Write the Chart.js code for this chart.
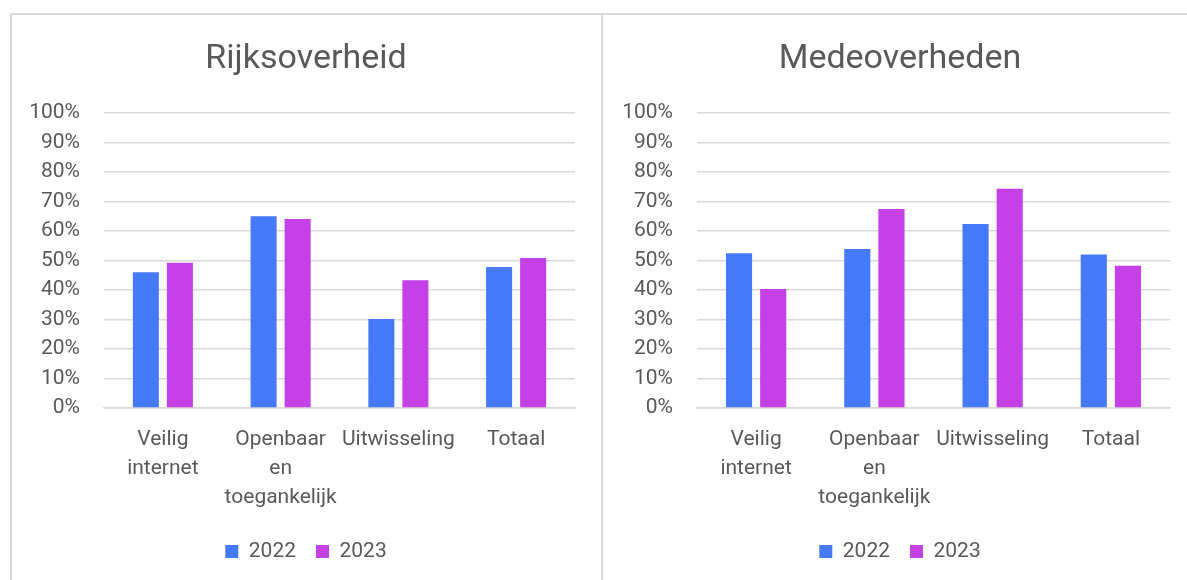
<!DOCTYPE html>
<html>
<head>
<meta charset="utf-8">
<script src="https://cdn.jsdelivr.net/npm/chart.js@4.4.1/dist/chart.umd.min.js"></script>
<style>
  body { margin: 0; background: #fff; width: 1187px; height: 580px; overflow: hidden; position: relative; }
  .box { position: absolute; top: 13px; height: 600px; border: 2px solid #d9d9d9; box-sizing: border-box; }
  #box1 { left: 10px; width: 593px; }
  #box2 { left: 601px; width: 600px; }
  .wrap { position: absolute; top: 15px; width: 588px; height: 565px; }
  #wrap1 { left: 12px; }
  #wrap2 { left: 606px; }
</style>
</head>
<body>
<div class="box" id="box1"></div>
<div class="box" id="box2"></div>
<div class="wrap" id="wrap1"><canvas id="chart1"></canvas></div>
<div class="wrap" id="wrap2"><canvas id="chart2"></canvas></div>
<script>
const categories = [["Veilig", "internet"], ["Openbaar", "en", "toegankelijk"], "Uitwisseling", "Totaal"];
const years = ["2022", "2023"];
const colors = ["#467afc", "#c640e8"];

const rijk2022 = [46, 65, 30.2, 47.8];
const rijk2023 = [49.2, 64, 43.3, 50.8];
const mede2022 = [52.4, 53.9, 62.3, 52];
const mede2023 = [40.3, 67.4, 74.3, 48.2];

const fontFamily = "Roboto, 'Open Sans', sans-serif";
const textColor = "#595959";

function makeChart(canvasId, title, values2022, values2023, sidePad) {
  const datasets = [values2022, values2023].map((vals, i) => ({
    label: years[i],
    data: vals,
    backgroundColor: colors[i],
    borderWidth: 0,
    categoryPercentage: 0.578,
    barPercentage: 0.765
  }));

  return new Chart(document.getElementById(canvasId), {
    type: "bar",
    data: { labels: categories, datasets },
    options: {
      responsive: true,
      maintainAspectRatio: false,
      animation: false,
      layout: { padding: { left: sidePad, right: sidePad, top: 24, bottom: 8 } },
      plugins: {
        title: {
          display: true,
          text: title,
          color: textColor,
          font: { family: fontFamily, size: 34, weight: "normal" },
          padding: { top: 0, bottom: 33 }
        },
        legend: {
          position: "bottom",
          labels: {
            color: textColor,
            font: { family: fontFamily, size: 21 },
            boxWidth: 13,
            boxHeight: 13,
            padding: 20
          }
        },
        tooltip: { enabled: false }
      },
      scales: {
        x: {
          grid: { display: false },
          border: { display: true, color: "#d9d9d9", width: 1.5 },
          ticks: {
            color: textColor,
            font: { family: fontFamily, size: 21, lineHeight: 1.38 },
            padding: 9,
            maxRotation: 0,
            autoSkip: false
          }
        },
        y: {
          min: 0,
          max: 100,
          afterFit: (scale) => { scale.width = 76; },
          ticks: {
            stepSize: 10,
            color: textColor,
            font: { family: fontFamily, size: 21 },
            padding: 24,
            callback: (v) => v + "%"
          },
          grid: { color: "#d9d9d9", lineWidth: 1.5, drawTicks: false },
          border: { display: false }
        },
        // empty right-hand axis, only keeps the plot symmetric under the title
        yRight: {
          type: "linear",
          position: "right",
          afterFit: (scale) => { scale.width = 9; },
          ticks: { display: false },
          grid: { display: false },
          border: { display: false }
        }
      }
    }
  });
}

makeChart("chart1", "Rijksoverheid", rijk2022, rijk2023, 16);
makeChart("chart2", "Medeoverheden", mede2022, mede2023, 15);
</script>
</body>
</html>
